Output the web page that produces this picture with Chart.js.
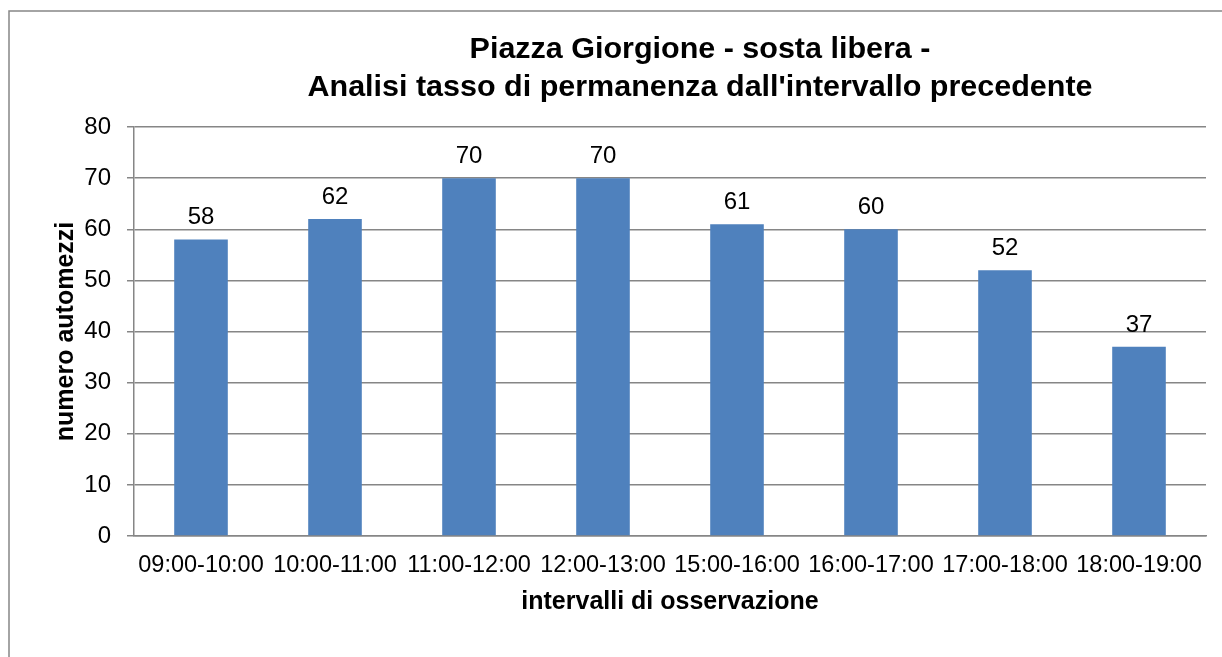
<!DOCTYPE html>
<html lang="it">
<head>
<meta charset="utf-8">
<title>Piazza Giorgione - sosta libera</title>
<script src="https://cdn.jsdelivr.net/npm/chart.js@4/dist/chart.umd.min.js"></script>
<style>
  html, body { margin: 0; padding: 0; background: #fff; }
  #wrap { width: 1222px; height: 657px; position: relative; }
</style>
</head>
<body>
<div id="wrap"><canvas id="permanenzaChart"></canvas></div>
<script>
// ==================== DATI ====================
const intervalli = ['09:00-10:00', '10:00-11:00', '11:00-12:00', '12:00-13:00',
                    '15:00-16:00', '16:00-17:00', '17:00-18:00', '18:00-19:00'];
const automezzi = [58, 62, 70, 70, 61, 60, 52, 37];
const yTicks = [0, 10, 20, 30, 40, 50, 60, 70, 80];
const titolo = ['Piazza Giorgione - sosta libera -',
                "Analisi tasso di permanenza dall'intervallo precedente"];

const FONT = '"Liberation Sans", Arial, sans-serif';
const GRIGIO = '#868686';
const BLU = '#4F81BD';

// ==================== PLUGIN ====================
// Cornice + titolo su due righe (centrato come nell'originale)
const cornice = {
  id: 'cornice',
  beforeDraw(chart) {
    const c = chart.ctx;
    c.save();
    c.fillStyle = '#fff';
    c.fillRect(0, 0, chart.width, chart.height);
    c.strokeStyle = GRIGIO;
    c.lineWidth = 1.5;
    c.strokeRect(9, 11, chart.width + 50, chart.height + 50);
    c.restore();
  },
  afterDraw(chart) {
    const c = chart.ctx;
    c.save();
    c.fillStyle = '#000';
    c.font = 'bold 29px ' + FONT;
    c.textAlign = 'center';
    c.textBaseline = 'alphabetic';
    // leggermente allargato in orizzontale come nell'immagine
    const sx = 785 / c.measureText(titolo[1]).width;
    c.translate(700, 0);
    c.scale(sx, 1);
    c.fillText(titolo[0], 0, 58);
    c.fillText(titolo[1], 0, 96);
    c.restore();
  }
};

// Etichette dei valori sopra le barre
const etichette = {
  id: 'etichette',
  afterDatasetsDraw(chart) {
    const c = chart.ctx;
    const meta = chart.getDatasetMeta(0);
    c.save();
    c.fillStyle = '#000';
    c.font = '24px ' + FONT;
    c.textAlign = 'center';
    c.textBaseline = 'alphabetic';
    meta.data.forEach((bar, i) => {
      c.fillText(String(automezzi[i]), bar.x, bar.y - 15);
    });
    c.restore();
  }
};

// ==================== GRAFICO ====================
const ctx = document.getElementById('permanenzaChart').getContext('2d');
const chart = new Chart(ctx, {
  type: 'bar',
  data: {
    labels: intervalli,
    datasets: [{
      data: automezzi,
      backgroundColor: BLU,
      borderWidth: 0,
      barPercentage: 0.4,
      categoryPercentage: 1.0
    }]
  },
  options: {
    responsive: true,
    maintainAspectRatio: false,
    animation: false,
    devicePixelRatio: 1,
    layout: { padding: { left: 50, right: 16, top: 127, bottom: 0 } },
    plugins: {
      legend: { display: false },
      title: { display: false },
      tooltip: { enabled: false }
    },
    scales: {
      x: {
        afterFit: (s) => { s.height = 121; },
        grid: { display: false, drawTicks: false },
        border: { display: true, color: GRIGIO, width: 1.5 },
        ticks: { color: '#000', font: { family: FONT, size: 23.5 }, padding: 15, maxRotation: 0, autoSkip: false },
        title: {
          display: true,
          text: 'intervalli di osservazione',
          color: '#000',
          font: { family: FONT, size: 25, weight: 'bold' },
          padding: { top: 0, bottom: 40 }
        }
      },
      y: {
        min: 0,
        max: 80,
        afterFit: (s) => { s.width = 84; },
        afterBuildTicks: (s) => { s.ticks = yTicks.map(v => ({ value: v })); },
        grid: { color: GRIGIO, lineWidth: 1.5, drawTicks: true, tickLength: 7 },
        border: { display: true, color: GRIGIO, width: 1.5 },
        ticks: { color: '#000', font: { family: FONT, size: 24 }, padding: 16 },
        title: {
          display: true,
          text: 'numero automezzi',
          color: '#000',
          font: { family: FONT, size: 25, weight: 'bold' },
          padding: { top: 1, bottom: 0 }
        }
      }
    }
  },
  plugins: [cornice, etichette]
});
</script>
</body>
</html>
